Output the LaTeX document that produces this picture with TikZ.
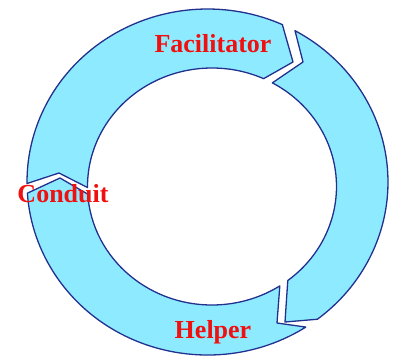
\documentclass[tikz,border=0pt]{standalone}
\usepackage{fontspec}
\setmainfont{Liberation Serif}
\usepackage{xcolor}
\definecolor{ringfill}{HTML}{8EEBFF}
\definecolor{ringline}{HTML}{22308E}
\definecolor{rolered}{HTML}{F01010}
\usepackage{tikz}

\begin{document}
\begin{tikzpicture}[x=1pt,y=1pt,
    ringpart/.style={fill=ringfill,draw=ringline,line width=1.3pt,line join=round},
    rolename/.style={text=rolered,font=\fontsize{26}{26}\selectfont\bfseries,
                     inner sep=0pt,anchor=base}]
  \useasboundingbox (-207.5,-179) rectangle (191.5,182);
  % three arrows round the ring: tail angle / notch point / head angle / tip point
  \foreach \t/\n/\h/\p in {180.5/{-148.5,9}/65.5/{85.5,120},
                           61/{95.5,120}/-52.5/{77.5,-140},
                           -57/{69.5,-141}/-176.3/{-147.5,4}}
    \draw[ringpart] (\t:180.5pt and 173pt)
      arc[start angle=\t,end angle=\h,x radius=180.5pt,y radius=173pt]
      -- (\p) -- ([shift={(4.5,-4.5)}]\h:124.5pt and 118.5pt)
      arc[start angle=\h,end angle=\t,x radius=124.5pt,y radius=118.5pt]
      -- (\n) -- cycle;
  \node[rolename] (fac) at (5.5,129) {Facilitator};
  \node[rolename] (con) at (-144.5,-21) {Conduit};
  \node[rolename] (hel) at (5.5,-156) {Helper};
\end{tikzpicture}
\end{document}
